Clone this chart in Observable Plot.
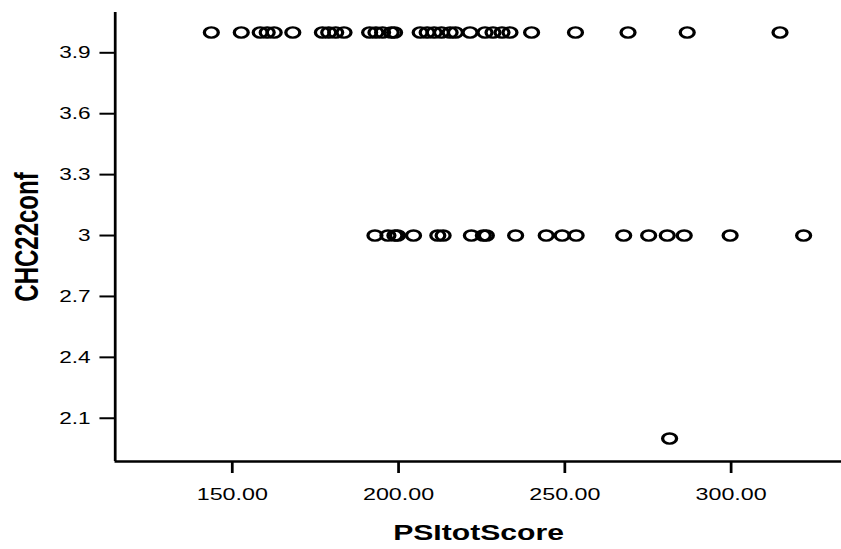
<!DOCTYPE html>
<html>
<head>
<meta charset="utf-8">
<script src="https://cdn.jsdelivr.net/npm/d3@7"></script>
<script src="https://cdn.jsdelivr.net/npm/@observablehq/plot@0.6"></script>
<style>
  html, body { margin: 0; padding: 0; background: white; }
  #chart svg { transform: scaleX(1.37); transform-origin: 0 0; display: block; }
</style>
</head>
<body>
<div id="chart"></div>
<script>
// PSItotScore values for each CHC22conf level
const conf4Scores = [143.7, 152.7, 158.4, 160.5, 162.6, 168.2, 177.1, 179.0, 181.1, 183.6,
  191.3, 193.2, 195.2, 197.8, 198.8, 206.5, 208.6, 210.7, 212.9, 215.5, 217.1, 221.5,
  226.0, 228.4, 231.1, 233.5, 240.0, 253.2, 269.0, 286.8, 314.7];
const conf3Scores = [192.9, 196.8, 198.9, 199.7, 204.5, 211.8, 213.4, 221.9, 225.5, 226.4,
  235.2, 244.4, 249.2, 253.4, 267.7, 275.2, 280.8, 285.9, 299.7, 321.8];
const conf2Scores = [281.5];
const xTicks = [150, 200, 250, 300];
const yTicks = [2.1, 2.4, 2.7, 3, 3.3, 3.6, 3.9];
const xLabel = "PSItotScore";
const yLabel = "CHC22conf";

const data = [
  ...conf4Scores.map(s => ({score: s, conf: 4})),
  ...conf3Scores.map(s => ({score: s, conf: 3})),
  ...conf2Scores.map(s => ({score: s, conf: 2}))
];

const xDomain = [114.8, 333.3];
const yDomain = [1.887, 4.0985];

const plot = Plot.plot({
  width: 614,
  height: 549,
  marginLeft: 83.6,
  marginRight: 0,
  marginTop: 12,
  marginBottom: 88,
  style: {fontFamily: "'Liberation Sans', Arial, sans-serif", color: "black", background: "white", overflow: "visible"},
  x: {domain: xDomain},
  y: {domain: yDomain},
  marks: [
    Plot.axisX({ticks: xTicks, tickFormat: d3.format(".2f"), tickSize: 12, tickPadding: 14,
      fontSize: 17, label: null, stroke: "black", strokeWidth: 2}),
    Plot.axisY({ticks: yTicks, tickFormat: d => String(d), tickSize: 11, tickPadding: 7,
      fontSize: 16.5, label: null, stroke: "black", strokeWidth: 2}),
    Plot.ruleX([xDomain[0]], {stroke: "black", strokeWidth: 2}),
    Plot.ruleY([yDomain[0]], {stroke: "black", strokeWidth: 2.4}),
    Plot.dot(data, {x: "score", y: "conf", r: 5.1, stroke: "black", strokeWidth: 2.4, fill: "none"}),
    Plot.text([xLabel], {text: d => d, frameAnchor: "bottom", textAnchor: "middle", lineAnchor: "middle",
      dy: 71, fontSize: 22, fontWeight: "bold", fill: "black"}),
    Plot.text([yLabel], {text: d => d, frameAnchor: "left", textAnchor: "middle", lineAnchor: "middle",
      rotate: -90, dx: -64, fontSize: 24, fontWeight: "bold", fill: "black"})
  ]
});
document.getElementById("chart").appendChild(plot);
</script>
</body>
</html>
